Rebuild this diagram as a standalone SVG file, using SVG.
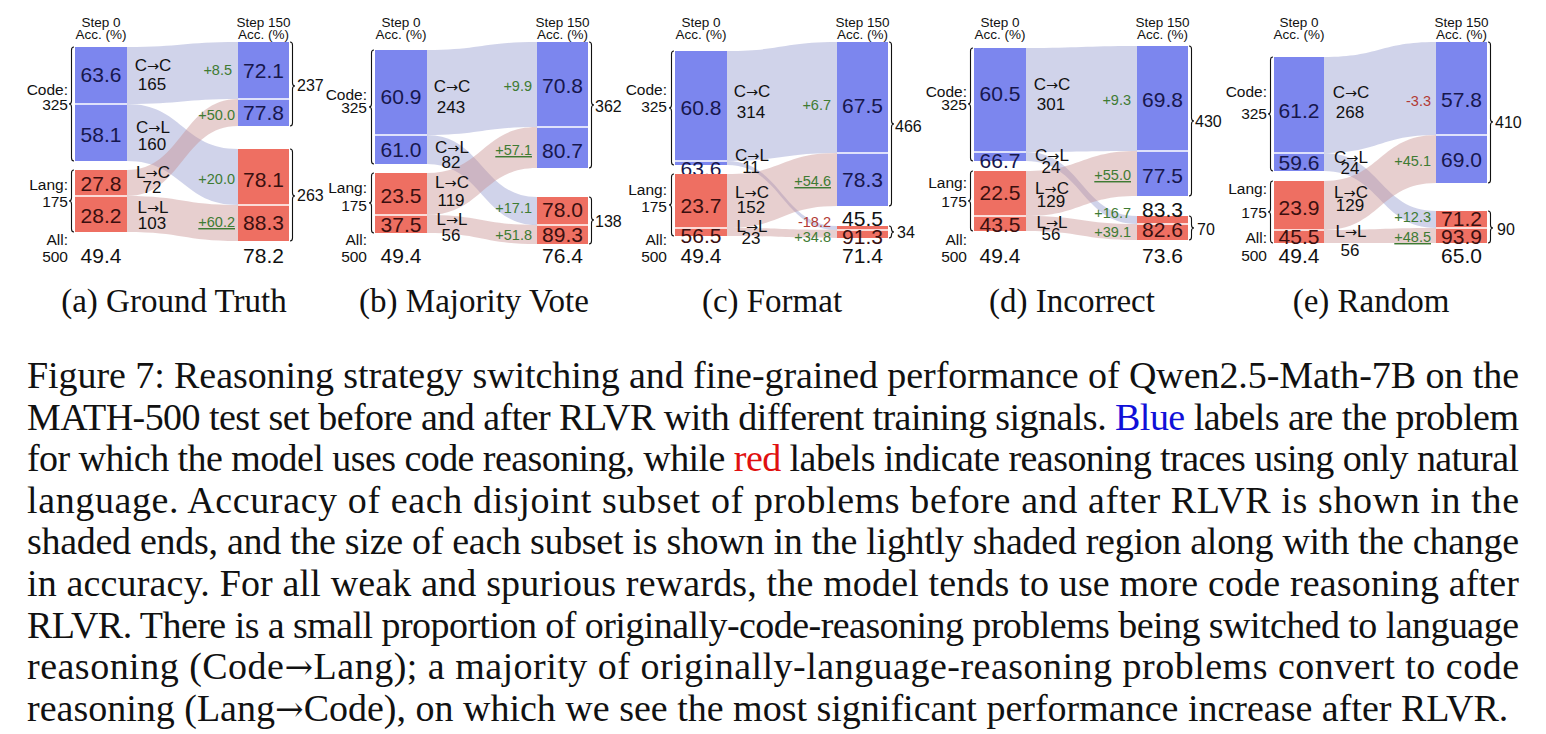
<svg xmlns="http://www.w3.org/2000/svg" width="1546" height="734" viewBox="0 0 1546 734">
<style>
text{font-family:"Liberation Sans",Arial,sans-serif;fill:#111}
.ar{font-family:"DejaVu Sans",sans-serif;font-size:0.85em}
.hd{font-size:13.5px;text-anchor:middle}
.nb{font-size:21px;text-anchor:middle;fill:#17174d}
.nr{font-size:21px;text-anchor:middle;fill:#3a0f0f}
.nk{font-size:21px;text-anchor:middle;fill:#111}
.fl{font-size:17px;text-anchor:middle}
.sd{font-size:15.5px;text-anchor:end}
.dl{font-size:14.5px;text-anchor:end;fill:#3e7b33}
.dn{font-size:14.5px;text-anchor:end;fill:#b23a34}
.ul{text-decoration:underline}
.ct{font-size:16px}
.bb{fill:#7c86ee}
.br{fill:#ee6f62}
.fb{fill:#8e95cc;opacity:.42}
.fr{fill:#c68c8c;opacity:.42}
.dv{stroke:#fff;stroke-width:1.5}
.bc{fill:none;stroke:#111;stroke-width:1.1}
.cap{font-family:"Liberation Serif","Times New Roman",serif;font-size:38px;fill:#111}
.cap .ar{font-family:"DejaVu Serif",serif;font-size:0.9em}
.sub{font-family:"Liberation Serif","Times New Roman",serif;font-size:33px;text-anchor:middle;fill:#111}
</style>

<!-- ===== Panel (a) Ground Truth ===== -->
<g id="panel-a">
<g id="a-connectors">
<path class="fb" d="M127,47 C182.5,47 182.5,42 238,42 L238,99 C182.5,99 182.5,104 127,104 Z"/>
<path class="fb" d="M127,104 C182.5,104 182.5,149 238,149 L238,205 C182.5,205 182.5,161 127,161 Z"/>
<path class="fr" d="M127,170 C182.5,170 182.5,99 238,99 L238,126 C182.5,126 182.5,196 127,196 Z"/>
<path class="fr" d="M127,196 C182.5,196 182.5,205 238,205 L238,241 C182.5,241 182.5,232 127,232 Z"/>
</g>
<g id="a-left-cc"><rect class="bb" x="75" y="47" width="52" height="57"/><text class="nb" x="101" y="82">63.6</text></g>
<g id="a-left-cl"><rect class="bb" x="75" y="104" width="52" height="57"/><line class="dv" x1="75" y1="104" x2="127" y2="104"/><text class="nb" x="101" y="142">58.1</text></g>
<g id="a-left-lc"><rect class="br" x="75" y="170" width="52" height="26"/><text class="nr" x="101" y="191">27.8</text></g>
<g id="a-left-ll"><rect class="br" x="75" y="196" width="52" height="36"/><line class="dv" x1="75" y1="196" x2="127" y2="196"/><text class="nr" x="101" y="223">28.2</text></g>
<g id="a-right-cc"><rect class="bb" x="238" y="42" width="51" height="57"/><text class="nb" x="263.5" y="78">72.1</text></g>
<g id="a-right-lc"><rect class="bb" x="238" y="99" width="51" height="27"/><line class="dv" x1="238" y1="99" x2="289" y2="99"/><text class="nb" x="263.5" y="120">77.8</text></g>
<g id="a-right-cl"><rect class="br" x="238" y="149" width="51" height="56"/><text class="nr" x="263.5" y="187">78.1</text></g>
<g id="a-right-ll"><rect class="br" x="238" y="205" width="51" height="36"/><line class="dv" x1="238" y1="205" x2="289" y2="205"/><text class="nr" x="263.5" y="230">88.3</text></g>
<g id="a-labels">
<text class="hd" x="101" y="27">Step 0</text><text class="hd" x="101" y="39">Acc. (%)</text>
<text class="hd" x="263.5" y="27">Step 150</text><text class="hd" x="263.5" y="39">Acc. (%)</text>
<text class="fl" x="153" y="71">C<tspan class="ar">→</tspan>C</text><text class="fl" x="152" y="90">165</text>
<text class="fl" x="153" y="133">C<tspan class="ar">→</tspan>L</text><text class="fl" x="152" y="150">160</text>
<text class="fl" x="153" y="178">L<tspan class="ar">→</tspan>C</text><text class="fl" x="152" y="193">72</text>
<text class="fl" x="153" y="213">L<tspan class="ar">→</tspan>L</text><text class="fl" x="152" y="229">103</text>
<text class="sd" x="68" y="95">Code:</text><text class="sd" x="68" y="110">325</text>
<text class="sd" x="68" y="190">Lang:</text><text class="sd" x="68" y="207">175</text>
<text class="sd" x="68" y="245">All:</text><text class="sd" x="68" y="262">500</text>
<text class="nk" x="101" y="263">49.4</text><text class="nk" x="263.5" y="263">78.2</text>
<text class="dl" x="232" y="75">+8.5</text>
<text class="dl" x="235" y="120">+50.0</text>
<text class="dl" x="235" y="184">+20.0</text>
<text class="dl ul" x="235" y="227">+60.2</text>
<text class="ct" x="297" y="91">237</text>
<text class="ct" x="297" y="201">263</text>
<path class="bc" d="M74,47 Q71.5,47 71.5,50 L71.5,101 Q71.5,104 69,104 Q71.5,104 71.5,107 L71.5,158 Q71.5,161 74,161"/>
<path class="bc" d="M74,170 Q71.5,170 71.5,173 L71.5,198 Q71.5,201 69,201 Q71.5,201 71.5,204 L71.5,229 Q71.5,232 74,232"/>
<path class="bc" d="M290,42 Q292.5,42 292.5,45 L292.5,83 Q292.5,86 295,86 Q292.5,86 292.5,89 L292.5,123 Q292.5,126 290,126"/>
<path class="bc" d="M290,149 Q292.5,149 292.5,152 L292.5,193 Q292.5,196 295,196 Q292.5,196 292.5,199 L292.5,238 Q292.5,241 290,241"/>
</g>
</g>

<!-- ===== Panel (b) Majority Vote ===== -->
<g id="panel-b">
<g id="b-connectors">
<path class="fb" d="M427,50 C482,50 482,42 537,42 L537,127 C482,127 482,135 427,135 Z"/>
<path class="fb" d="M427,135 C482,135 482,197 537,197 L537,225 C482,225 482,164 427,164 Z"/>
<path class="fr" d="M427,173 C482,173 482,127 537,127 L537,168 C482,168 482,215 427,215 Z"/>
<path class="fr" d="M427,215 C482,215 482,225 537,225 L537,244 C482,244 482,233 427,233 Z"/>
</g>
<g id="b-left-cc"><rect class="bb" x="375" y="50" width="52" height="85"/><text class="nb" x="401" y="104">60.9</text></g>
<g id="b-left-cl"><rect class="bb" x="375" y="135" width="52" height="29"/><line class="dv" x1="375" y1="135" x2="427" y2="135"/><text class="nb" x="401" y="157">61.0</text></g>
<g id="b-left-lc"><rect class="br" x="375" y="173" width="52" height="42"/><text class="nr" x="401" y="203">23.5</text></g>
<g id="b-left-ll"><rect class="br" x="375" y="215" width="52" height="18"/><line class="dv" x1="375" y1="215" x2="427" y2="215"/><text class="nr" x="401" y="232">37.5</text></g>
<g id="b-right-cc"><rect class="bb" x="537" y="42" width="51" height="85"/><text class="nb" x="562.5" y="93">70.8</text></g>
<g id="b-right-lc"><rect class="bb" x="537" y="127" width="51" height="41"/><line class="dv" x1="537" y1="127" x2="588" y2="127"/><text class="nb" x="562.5" y="158">80.7</text></g>
<g id="b-right-cl"><rect class="br" x="537" y="197" width="51" height="28"/><text class="nr" x="562.5" y="217">78.0</text></g>
<g id="b-right-ll"><rect class="br" x="537" y="225" width="51" height="19"/><line class="dv" x1="537" y1="225" x2="588" y2="225"/><text class="nr" x="562.5" y="242">89.3</text></g>
<g id="b-labels">
<text class="hd" x="401" y="27">Step 0</text><text class="hd" x="401" y="39">Acc. (%)</text>
<text class="hd" x="562.5" y="27">Step 150</text><text class="hd" x="562.5" y="39">Acc. (%)</text>
<text class="fl" x="452" y="92">C<tspan class="ar">→</tspan>C</text><text class="fl" x="451" y="113">243</text>
<text class="fl" x="452" y="153">C<tspan class="ar">→</tspan>L</text><text class="fl" x="451" y="168">82</text>
<text class="fl" x="452" y="188">L<tspan class="ar">→</tspan>C</text><text class="fl" x="451" y="206">119</text>
<text class="fl" x="452" y="225">L<tspan class="ar">→</tspan>L</text><text class="fl" x="451" y="241">56</text>
<text class="sd" x="367" y="100">Code:</text><text class="sd" x="367" y="113">325</text>
<text class="sd" x="367" y="193">Lang:</text><text class="sd" x="367" y="211">175</text>
<text class="sd" x="367" y="245">All:</text><text class="sd" x="367" y="262">500</text>
<text class="nk" x="401" y="263">49.4</text><text class="nk" x="562.5" y="263">76.4</text>
<text class="dl" x="532" y="91">+9.9</text>
<text class="dl ul" x="532" y="155">+57.1</text>
<text class="dl" x="532" y="213">+17.1</text>
<text class="dl" x="532" y="240">+51.8</text>
<text class="ct" x="595" y="112">362</text>
<text class="ct" x="595" y="227">138</text>
<path class="bc" d="M374,50 Q371.5,50 371.5,53 L371.5,104 Q371.5,107 369,107 Q371.5,107 371.5,110 L371.5,161 Q371.5,164 374,164"/>
<path class="bc" d="M374,173 Q371.5,173 371.5,176 L371.5,200 Q371.5,203 369,203 Q371.5,203 371.5,206 L371.5,230 Q371.5,233 374,233"/>
<path class="bc" d="M589,42 Q591.5,42 591.5,45 L591.5,102 Q591.5,105 594,105 Q591.5,105 591.5,108 L591.5,165 Q591.5,168 589,168"/>
<path class="bc" d="M589,197 Q591.5,197 591.5,200 L591.5,217 Q591.5,220 594,220 Q591.5,220 591.5,223 L591.5,241 Q591.5,244 589,244"/>
</g>
</g>

<!-- ===== Panel (c) Format ===== -->
<g id="panel-c">
<g id="c-connectors">
<path class="fb" d="M727,51 C782,51 782,42 837,42 L837,153 C782,153 782,161 727,161 Z"/>
<path class="fb" d="M727,161 C782,161 782,226 837,226 L837,230 C782,230 782,165 727,165 Z"/>
<path class="fr" d="M727,174 C782,174 782,153 837,153 L837,206 C782,206 782,228 727,228 Z"/>
<path class="fr" d="M727,228 C782,228 782,230 837,230 L837,238 C782,238 782,236 727,236 Z"/>
</g>
<g id="c-left-cc"><rect class="bb" x="675" y="51" width="52" height="110"/><text class="nb" x="701" y="115">60.8</text></g>
<g id="c-left-cl"><rect class="bb" x="675" y="161" width="52" height="4"/><line class="dv" x1="675" y1="161" x2="727" y2="161"/><text class="nb" x="701" y="176">63.6</text></g>
<g id="c-left-lc"><rect class="br" x="675" y="174" width="52" height="54"/><text class="nr" x="701" y="213">23.7</text></g>
<g id="c-left-ll"><rect class="br" x="675" y="228" width="52" height="8"/><line class="dv" x1="675" y1="228" x2="727" y2="228"/><text class="nr" x="701" y="243">56.5</text></g>
<g id="c-right-cc"><rect class="bb" x="837" y="42" width="51" height="111"/><text class="nb" x="862.5" y="113">67.5</text></g>
<g id="c-right-lc"><rect class="bb" x="837" y="153" width="51" height="53"/><line class="dv" x1="837" y1="153" x2="888" y2="153"/><text class="nb" x="862.5" y="187">78.3</text></g>
<g id="c-right-cl"><rect class="br" x="837" y="226" width="51" height="4"/><text class="nk" x="862.5" y="226">45.5</text></g>
<g id="c-right-ll"><rect class="br" x="837" y="230" width="51" height="8"/><line class="dv" x1="837" y1="230" x2="888" y2="230"/><text class="nr" x="862.5" y="244">91.3</text></g>
<g id="c-labels">
<text class="hd" x="701" y="27">Step 0</text><text class="hd" x="701" y="39">Acc. (%)</text>
<text class="hd" x="862.5" y="27">Step 150</text><text class="hd" x="862.5" y="39">Acc. (%)</text>
<text class="fl" x="752" y="97">C<tspan class="ar">→</tspan>C</text><text class="fl" x="751" y="118">314</text>
<text class="fl" x="752" y="161">C<tspan class="ar">→</tspan>L</text><text class="fl" x="751" y="173">11</text>
<text class="fl" x="752" y="198">L<tspan class="ar">→</tspan>C</text><text class="fl" x="751" y="213">152</text>
<text class="fl" x="752" y="232">L<tspan class="ar">→</tspan>L</text><text class="fl" x="751" y="244">23</text>
<text class="sd" x="667" y="95">Code:</text><text class="sd" x="667" y="112">325</text>
<text class="sd" x="667" y="195">Lang:</text><text class="sd" x="667" y="212">175</text>
<text class="sd" x="667" y="245">All:</text><text class="sd" x="667" y="262">500</text>
<text class="nk" x="701" y="263">49.4</text><text class="nk" x="862.5" y="263">71.4</text>
<text class="dl" x="831" y="110">+6.7</text>
<text class="dl ul" x="831" y="186">+54.6</text>
<text class="dn" x="831" y="227">-18.2</text>
<text class="dl" x="831" y="242">+34.8</text>
<text class="ct" x="895" y="132">466</text>
<text class="ct" x="897" y="238">34</text>
<path class="bc" d="M674,51 Q671.5,51 671.5,54 L671.5,105 Q671.5,108 669,108 Q671.5,108 671.5,111 L671.5,162 Q671.5,165 674,165"/>
<path class="bc" d="M674,174 Q671.5,174 671.5,177 L671.5,202 Q671.5,205 669,205 Q671.5,205 671.5,208 L671.5,233 Q671.5,236 674,236"/>
<path class="bc" d="M889,42 Q891.5,42 891.5,45 L891.5,121 Q891.5,124 894,124 Q891.5,124 891.5,127 L891.5,203 Q891.5,206 889,206"/>
<path class="bc" d="M889,226 Q891.5,226 891.5,229 Q891.5,232 894,232 Q891.5,232 891.5,235 Q891.5,238 889,238"/>
</g>
</g>

<!-- ===== Panel (d) Incorrect ===== -->
<g id="panel-d">
<g id="d-connectors">
<path class="fb" d="M1026,48 C1081.5,48 1081.5,46 1137,46 L1137,151 C1081.5,151 1081.5,152 1026,152 Z"/>
<path class="fb" d="M1026,152 C1081.5,152 1081.5,216 1137,216 L1137,224 C1081.5,224 1081.5,161 1026,161 Z"/>
<path class="fr" d="M1026,171 C1081.5,171 1081.5,151 1137,151 L1137,196 C1081.5,196 1081.5,216 1026,216 Z"/>
<path class="fr" d="M1026,216 C1081.5,216 1081.5,224 1137,224 L1137,240 C1081.5,240 1081.5,231 1026,231 Z"/>
</g>
<g id="d-left-cc"><rect class="bb" x="974" y="48" width="52" height="104"/><text class="nb" x="1000" y="101">60.5</text></g>
<g id="d-left-cl"><rect class="bb" x="974" y="152" width="52" height="9"/><line class="dv" x1="974" y1="152" x2="1026" y2="152"/><text class="nb" x="1000" y="168">66.7</text></g>
<g id="d-left-lc"><rect class="br" x="974" y="171" width="52" height="45"/><text class="nr" x="1000" y="200">22.5</text></g>
<g id="d-left-ll"><rect class="br" x="974" y="216" width="52" height="15"/><line class="dv" x1="974" y1="216" x2="1026" y2="216"/><text class="nr" x="1000" y="232">43.5</text></g>
<g id="d-right-cc"><rect class="bb" x="1137" y="46" width="51" height="105"/><text class="nb" x="1162.5" y="107">69.8</text></g>
<g id="d-right-lc"><rect class="bb" x="1137" y="151" width="51" height="45"/><line class="dv" x1="1137" y1="151" x2="1188" y2="151"/><text class="nb" x="1162.5" y="183">77.5</text></g>
<g id="d-right-cl"><rect class="br" x="1137" y="216" width="51" height="8"/><text class="nk" x="1162.5" y="217">83.3</text></g>
<g id="d-right-ll"><rect class="br" x="1137" y="224" width="51" height="16"/><line class="dv" x1="1137" y1="224" x2="1188" y2="224"/><text class="nr" x="1162.5" y="237">82.6</text></g>
<g id="d-labels">
<text class="hd" x="1000" y="27">Step 0</text><text class="hd" x="1000" y="39">Acc. (%)</text>
<text class="hd" x="1162.5" y="27">Step 150</text><text class="hd" x="1162.5" y="39">Acc. (%)</text>
<text class="fl" x="1052" y="90">C<tspan class="ar">→</tspan>C</text><text class="fl" x="1051" y="110">301</text>
<text class="fl" x="1052" y="161">C<tspan class="ar">→</tspan>L</text><text class="fl" x="1051" y="173">24</text>
<text class="fl" x="1052" y="194">L<tspan class="ar">→</tspan>C</text><text class="fl" x="1051" y="207">129</text>
<text class="fl" x="1052" y="228">L<tspan class="ar">→</tspan>L</text><text class="fl" x="1051" y="240">56</text>
<text class="sd" x="967" y="97">Code:</text><text class="sd" x="967" y="110">325</text>
<text class="sd" x="967" y="188">Lang:</text><text class="sd" x="967" y="207">175</text>
<text class="sd" x="967" y="245">All:</text><text class="sd" x="967" y="262">500</text>
<text class="nk" x="1000" y="263">49.4</text><text class="nk" x="1162.5" y="263">73.6</text>
<text class="dl" x="1131" y="105">+9.3</text>
<text class="dl ul" x="1131" y="180">+55.0</text>
<text class="dl" x="1131" y="218">+16.7</text>
<text class="dl" x="1131" y="237">+39.1</text>
<text class="ct" x="1195" y="127">430</text>
<text class="ct" x="1197" y="235">70</text>
<path class="bc" d="M973,48 Q970.5,48 970.5,51 L970.5,101 Q970.5,104 968,104 Q970.5,104 970.5,107 L970.5,158 Q970.5,161 973,161"/>
<path class="bc" d="M973,171 Q970.5,171 970.5,174 L970.5,198 Q970.5,201 968,201 Q970.5,201 970.5,204 L970.5,228 Q970.5,231 973,231"/>
<path class="bc" d="M1189,46 Q1191.5,46 1191.5,49 L1191.5,118 Q1191.5,121 1194,121 Q1191.5,121 1191.5,124 L1191.5,193 Q1191.5,196 1189,196"/>
<path class="bc" d="M1189,216 Q1191.5,216 1191.5,219 L1191.5,225 Q1191.5,228 1194,228 Q1191.5,228 1191.5,231 L1191.5,237 Q1191.5,240 1189,240"/>
</g>
</g>

<!-- ===== Panel (e) Random ===== -->
<g id="panel-e">
<g id="e-connectors">
<path class="fb" d="M1324,57 C1380,57 1380,42 1436,42 L1436,135 C1380,135 1380,153 1324,153 Z"/>
<path class="fb" d="M1324,153 C1380,153 1380,211 1436,211 L1436,228 C1380,228 1380,171 1324,171 Z"/>
<path class="fr" d="M1324,181 C1380,181 1380,135 1436,135 L1436,183 C1380,183 1380,230 1324,230 Z"/>
<path class="fr" d="M1324,230 C1380,230 1380,228 1436,228 L1436,243 C1380,243 1380,243 1324,243 Z"/>
</g>
<g id="e-left-cc"><rect class="bb" x="1274" y="57" width="50" height="96"/><text class="nb" x="1299" y="118">61.2</text></g>
<g id="e-left-cl"><rect class="bb" x="1274" y="153" width="50" height="18"/><line class="dv" x1="1274" y1="153" x2="1324" y2="153"/><text class="nb" x="1299" y="170">59.6</text></g>
<g id="e-left-lc"><rect class="br" x="1274" y="181" width="50" height="49"/><text class="nr" x="1299" y="215">23.9</text></g>
<g id="e-left-ll"><rect class="br" x="1274" y="230" width="50" height="13"/><line class="dv" x1="1274" y1="230" x2="1324" y2="230"/><text class="nr" x="1299" y="244">45.5</text></g>
<g id="e-right-cc"><rect class="bb" x="1436" y="42" width="51" height="93"/><text class="nb" x="1461.5" y="107">57.8</text></g>
<g id="e-right-lc"><rect class="bb" x="1436" y="135" width="51" height="48"/><line class="dv" x1="1436" y1="135" x2="1487" y2="135"/><text class="nb" x="1461.5" y="167">69.0</text></g>
<g id="e-right-cl"><rect class="br" x="1436" y="211" width="51" height="17"/><text class="nr" x="1461.5" y="226">71.2</text></g>
<g id="e-right-ll"><rect class="br" x="1436" y="228" width="51" height="15"/><line class="dv" x1="1436" y1="228" x2="1487" y2="228"/><text class="nr" x="1461.5" y="244">93.9</text></g>
<g id="e-labels">
<text class="hd" x="1299" y="27">Step 0</text><text class="hd" x="1299" y="39">Acc. (%)</text>
<text class="hd" x="1461.5" y="27">Step 150</text><text class="hd" x="1461.5" y="39">Acc. (%)</text>
<text class="fl" x="1351" y="98">C<tspan class="ar">→</tspan>C</text><text class="fl" x="1350" y="118">268</text>
<text class="fl" x="1351" y="163">C<tspan class="ar">→</tspan>L</text><text class="fl" x="1350" y="174">24</text>
<text class="fl" x="1351" y="198">L<tspan class="ar">→</tspan>C</text><text class="fl" x="1350" y="211">129</text>
<text class="fl" x="1351" y="237">L<tspan class="ar">→</tspan>L</text><text class="fl" x="1350" y="256">56</text>
<text class="sd" x="1267" y="97">Code:</text><text class="sd" x="1267" y="119">325</text>
<text class="sd" x="1267" y="194">Lang:</text><text class="sd" x="1267" y="218">175</text>
<text class="sd" x="1267" y="243">All:</text><text class="sd" x="1267" y="261">500</text>
<text class="nk" x="1299" y="263">49.4</text><text class="nk" x="1461.5" y="263">65.0</text>
<text class="dn" x="1431" y="106">-3.3</text>
<text class="dl" x="1431" y="166">+45.1</text>
<text class="dl" x="1431" y="222">+12.3</text>
<text class="dl ul" x="1431" y="242">+48.5</text>
<text class="ct" x="1495" y="128">410</text>
<text class="ct" x="1497" y="235">90</text>
<path class="bc" d="M1273,57 Q1270.5,57 1270.5,60 L1270.5,111 Q1270.5,114 1268,114 Q1270.5,114 1270.5,117 L1270.5,168 Q1270.5,171 1273,171"/>
<path class="bc" d="M1273,181 Q1270.5,181 1270.5,184 L1270.5,209 Q1270.5,212 1268,212 Q1270.5,212 1270.5,215 L1270.5,240 Q1270.5,243 1273,243"/>
<path class="bc" d="M1488,42 Q1490.5,42 1490.5,45 L1490.5,119 Q1490.5,122 1493,122 Q1490.5,122 1490.5,125 L1490.5,180 Q1490.5,183 1488,183"/>
<path class="bc" d="M1488,211 Q1490.5,211 1490.5,214 L1490.5,225 Q1490.5,228 1493,228 Q1490.5,228 1490.5,231 L1490.5,240 Q1490.5,243 1488,243"/>
</g>
</g>

<!-- ===== Sub-captions ===== -->
<g id="subcaptions">
<text class="sub" x="174" y="312">(a) Ground Truth</text>
<text class="sub" x="474" y="312">(b) Majority Vote</text>
<text class="sub" x="772" y="312">(c) Format</text>
<text class="sub" x="1072" y="312">(d) Incorrect</text>
<text class="sub" x="1371" y="312">(e) Random</text>
</g>

<!-- ===== Caption ===== -->
<g id="caption">
<text class="cap" x="27" y="388" textLength="1492" lengthAdjust="spacing">Figure 7: Reasoning strategy switching and fine-grained performance of Qwen2.5-Math-7B on the</text>
<text class="cap" x="27" y="430" textLength="1492" lengthAdjust="spacing">MATH-500 test set before and after RLVR with different training signals. <tspan fill="#1010d8">Blue</tspan> labels are the problem</text>
<text class="cap" x="27" y="471" textLength="1492" lengthAdjust="spacing">for which the model uses code reasoning, while <tspan fill="#e01010">red</tspan> labels indicate reasoning traces using only natural</text>
<text class="cap" x="27" y="513" textLength="1492" lengthAdjust="spacing">language.  Accuracy of each disjoint subset of problems before and after RLVR is shown in the</text>
<text class="cap" x="27" y="554" textLength="1492" lengthAdjust="spacing">shaded ends, and the size of each subset is shown in the lightly shaded region along with the change</text>
<text class="cap" x="27" y="596" textLength="1492" lengthAdjust="spacing">in accuracy. For all weak and spurious rewards, the model tends to use more code reasoning after</text>
<text class="cap" x="27" y="638" textLength="1492" lengthAdjust="spacing">RLVR. There is a small proportion of originally-code-reasoning problems being switched to language</text>
<text class="cap" x="27" y="679" textLength="1492" lengthAdjust="spacing">reasoning (Code<tspan class="ar">→</tspan>Lang); a majority of originally-language-reasoning problems convert to code</text>
<text class="cap" x="27" y="721">reasoning (Lang<tspan class="ar">→</tspan>Code), on which we see the most significant performance increase after RLVR.</text>
</g>
</svg>
